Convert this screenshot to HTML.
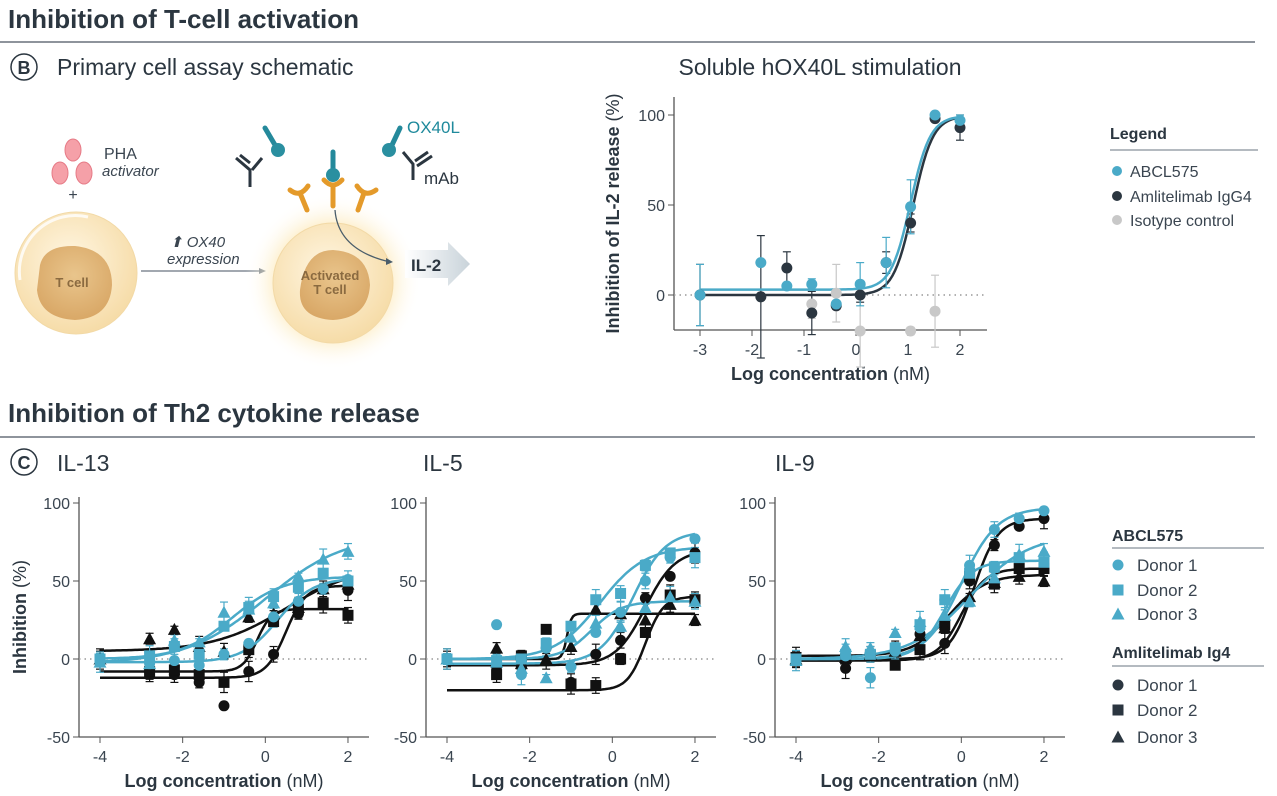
<!DOCTYPE html>
<html><head><meta charset="utf-8"><style>
body{margin:0;background:#fff;}
svg{display:block;font-family:"Liberation Sans",sans-serif;}
</style></head><body>
<svg id="s" width="1277" height="796" viewBox="0 0 1277 796" xmlns="http://www.w3.org/2000/svg">
<defs>
<radialGradient id="cellg" cx="45%" cy="40%" r="60%"><stop offset="0" stop-color="#fff6e2"/><stop offset="1" stop-color="#f6dca8"/></radialGradient>
<radialGradient id="nucg" cx="50%" cy="40%" r="60%"><stop offset="0" stop-color="#e9c58c"/><stop offset="1" stop-color="#d9a867"/></radialGradient>
<radialGradient id="glow" cx="50%" cy="50%" r="50%"><stop offset="0.6" stop-color="#fde9b8" stop-opacity="0.9"/><stop offset="1" stop-color="#fff" stop-opacity="0"/></radialGradient>
<linearGradient id="il2" x1="0" x2="1"><stop offset="0" stop-color="#fff"/><stop offset="1" stop-color="#c9d3da"/></linearGradient>
</defs>
<text x="8" y="28" font-size="26" font-weight="bold" fill="#2b3640">Inhibition of T-cell activation</text>
<line x1="0" y1="42" x2="1255" y2="42" stroke="#4a5560" stroke-width="1.3"/>
<circle cx="24" cy="67" r="13" fill="none" stroke="#2b3640" stroke-width="1.5"/><text x="24" y="74" font-size="18" font-weight="bold" text-anchor="middle" fill="#2b3640">B</text>
<text x="57" y="75" font-size="23" fill="#2b3640">Primary cell assay schematic</text>
<text x="820" y="75" font-size="23" fill="#2b3640" text-anchor="middle">Soluble hOX40L stimulation</text>
<text x="8" y="422" font-size="26" font-weight="bold" fill="#2b3640">Inhibition of Th2 cytokine release</text>
<line x1="0" y1="437" x2="1255" y2="437" stroke="#4a5560" stroke-width="1.3"/>
<circle cx="24" cy="462" r="13" fill="none" stroke="#2b3640" stroke-width="1.5"/><text x="24" y="469" font-size="18" font-weight="bold" text-anchor="middle" fill="#2b3640">C</text>
<text x="57" y="471" font-size="23" fill="#2b3640">IL-13</text>
<text x="423" y="471" font-size="23" fill="#2b3640">IL-5</text>
<text x="775" y="471" font-size="23" fill="#2b3640">IL-9</text>

<g>
<ellipse cx="73" cy="150" rx="8" ry="11" fill="#f5a0a8" stroke="#e67a86"/>
<ellipse cx="60" cy="173" rx="8" ry="11" fill="#f5a0a8" stroke="#e67a86"/>
<ellipse cx="84" cy="173" rx="8" ry="11" fill="#f5a0a8" stroke="#e67a86"/>
<text x="104" y="159" font-size="16" fill="#3a4550">PHA</text>
<text x="102" y="176" font-size="15" font-style="italic" fill="#3a4550">activator</text>
<text x="73" y="200" font-size="16" fill="#3a4550" text-anchor="middle">+</text>
<circle cx="76" cy="273" r="61" fill="url(#cellg)" stroke="#f2d9a6"/>
<path d="M20 280 A56 56 0 0 1 88 217" fill="none" stroke="#fff" stroke-width="3" opacity="0.8"/>
<path d="M40 265 Q45 245 75 246 Q112 250 112 285 Q110 318 75 320 Q40 318 37 290 Z" fill="url(#nucg)"/>
<text x="72" y="287" font-size="13" font-weight="bold" fill="#8a6a40" text-anchor="middle">T cell</text>
<text x="170" y="247" font-size="15" font-style="italic" fill="#3a4550">⬆  OX40</text>
<text x="167" y="264" font-size="15" font-style="italic" fill="#3a4550">expression</text>
<line x1="141" y1="271" x2="262" y2="271" stroke="#6a7580" stroke-width="1.3"/><path d="M266 271 l-7 -3 v6z" fill="#6a7580"/>
<circle cx="333" cy="282" r="88" fill="url(#glow)"/>
<circle cx="333" cy="283" r="60" fill="url(#cellg)" stroke="#f2d9a6"/>
<path d="M300 290 Q305 250 333 250 Q368 252 370 285 Q368 318 333 320 Q298 318 300 290Z" fill="url(#nucg)"/>
<text x="330" y="280" font-size="13" font-weight="bold" fill="#8a6a40" text-anchor="middle">Activated</text>
<text x="330" y="294" font-size="13" font-weight="bold" fill="#8a6a40" text-anchor="middle">T cell</text>
<g stroke="#e49a2a" stroke-width="5" fill="none" stroke-linecap="round">
<path d="M307 210 L300 193"/><path d="M290 190 Q300 198 308 186"/>
<path d="M333 206 L333 186"/><path d="M324 180 Q333 190 342 180"/>
<path d="M358 210 L364 193"/><path d="M357 186 Q365 198 376 190"/>
</g>
<g stroke="#24899b" stroke-width="5" stroke-linecap="round"><line x1="333" y1="152" x2="333" y2="170"/><line x1="265" y1="128" x2="275" y2="145"/><line x1="400" y1="128" x2="392" y2="145"/></g>
<circle cx="333" cy="175" r="7" fill="#2a8fa0"/><circle cx="278" cy="150" r="7" fill="#2a8fa0"/><circle cx="389" cy="150" r="7" fill="#2a8fa0"/>
<g stroke="#2b3640" stroke-width="3" fill="none">
<path d="M236 158 L250 170 V187 M262 158 L252 170 M240 155 L250 163"/>
<path d="M403 152 L413 164 V180 M432 156 L417 166 M428 152 L415 161"/>
</g>
<text x="407" y="133" font-size="17" fill="#1f8a9c">OX40L</text>
<text x="424" y="184" font-size="17" fill="#2b3640">mAb</text>
<path d="M335 210 Q338 250 390 262" fill="none" stroke="#4a5d6a" stroke-width="1.3"/><path d="M393 262 l-7 -4 v7z" fill="#4a5d6a"/>
<path d="M405 250 H448 V242 L470 264 L448 286 V278 H405Z" fill="url(#il2)"/>
<text x="411" y="271" font-size="17" font-weight="bold" fill="#2b3640">IL-2</text>
</g>

<text x="1110" y="139" font-size="16" font-weight="bold" fill="#2b3640">Legend</text>
<line x1="1110" y1="150" x2="1258" y2="150" stroke="#6a7580"/>
<circle cx="1117" cy="171" r="5" fill="#4aaac8"/><text x="1130" y="177" font-size="16" fill="#3a4550">ABCL575</text>
<circle cx="1117" cy="196" r="5" fill="#2b3640"/><text x="1130" y="202" font-size="16" fill="#3a4550">Amlitelimab IgG4</text>
<circle cx="1117" cy="220" r="5" fill="#c8c8c8"/><text x="1130" y="226" font-size="16" fill="#3a4550">Isotype control</text>

<text x="1112" y="541" font-size="16" font-weight="bold" fill="#2b3640">ABCL575</text>
<line x1="1112" y1="548" x2="1264" y2="548" stroke="#6a7580"/>
<text x="1112" y="658" font-size="16" font-weight="bold" fill="#2b3640">Amlitelimab Ig4</text>
<line x1="1112" y1="666" x2="1264" y2="666" stroke="#6a7580"/>
<g id="leg"></g>
<g id="plots"></g>
</svg>
<script>
var NS="http://www.w3.org/2000/svg",P=document.getElementById('plots'),L=document.getElementById('leg');
function el(t,a,par,txt){var e=document.createElementNS(NS,t);for(var k in a)e.setAttribute(k,a[k]);if(txt!=null)e.textContent=txt;(par||P).appendChild(e);return e;}
var TEAL="#4aaac8",BLK="#111",NAVY="#2b3640";
function marker(sh,x,y,c,par,r){r=r||5.5;if(sh=='c')el('circle',{cx:x,cy:y,r:r,fill:c},par);else if(sh=='s')el('rect',{x:x-r,y:y-r,width:2*r,height:2*r,fill:c},par);else el('path',{d:'M'+x+' '+(y-r-1)+'L'+(x+r+1)+' '+(y+r)+'L'+(x-r-1)+' '+(y+r)+'Z',fill:c},par);}
[['c',565,TEAL,1],['s',590,TEAL,2],['t',614,TEAL,3],['c',685,NAVY,1],['s',710,NAVY,2],['t',737,NAVY,3]].forEach(function(m){marker(m[0],1118,m[1],m[2],L);el('text',{x:1137,y:m[1]+6,'font-size':17,fill:'#3a4550'},L,'Donor '+m[3]);});
function f4(p,x){return p[0]+(p[1]-p[0])/(1+Math.pow(10,(p[2]-x)*p[3]));}
function plot(o){
 var X=function(v){return o.x0+(v-o.xmin)*o.xs},Y=function(v){return o.y0-v*o.ys};
 el('line',{x1:o.ax,y1:o.top,x2:o.ax,y2:o.bot,stroke:'#555','stroke-width':1.3});
 el('line',{x1:o.ax,y1:o.bot,x2:o.right,y2:o.bot,stroke:'#555','stroke-width':1.3});
 el('line',{x1:o.ax,y1:Y(0),x2:o.right,y2:Y(0),stroke:'#999','stroke-width':1.5,'stroke-dasharray':'1.5 4'});
 o.yt.forEach(function(v){el('line',{x1:o.ax-6,y1:Y(v),x2:o.ax,y2:Y(v),stroke:'#555'});el('text',{x:o.ax-9,y:Y(v)+6,'font-size':16,'text-anchor':'end',fill:'#3a4550'},null,v);});
 o.xt.forEach(function(v){el('line',{x1:X(v),y1:o.bot,x2:X(v),y2:o.bot+6,stroke:'#555'});el('text',{x:X(v),y:o.bot+25,'font-size':16,'text-anchor':'middle',fill:'#3a4550'},null,v);});
 var t=el('text',{x:(o.ax+o.right)/2,y:o.bot+50,'font-size':18,'text-anchor':'middle',fill:'#2b3640'});
 el('tspan',{'font-weight':'bold'},t,'Log concentration');el('tspan',{},t,' (nM)');
 if(o.ylab){var yt=el('text',{transform:'translate('+o.ylx+','+((o.top+o.bot)/2)+') rotate(-90)','font-size':18,'text-anchor':'middle',fill:'#2b3640'});el('tspan',{'font-weight':'bold'},yt,o.ylab);el('tspan',{},yt,' (%)');}
 o.ser.forEach(function(s,si){
  if(s.p){var d='';for(var v=o.xs0;v<=o.xe0+1e-9;v+=0.05){d+=(d?'L':'M')+X(v).toFixed(1)+' '+Y(f4(s.p,v)).toFixed(1);}el('path',{d:d,fill:'none',stroke:s.c,'stroke-width':2.5});}
  s.y.forEach(function(v,i){if(v==null)return;var x=X(o.px[i]),y=Y(v);var e=(s.e?s.e[i]:((i*7+si*3)%4)*1.5+2);
   el('line',{x1:x,y1:Y(v+e),x2:x,y2:Y(v-e),stroke:s.c,'stroke-width':1.2});el('line',{x1:x-4,y1:Y(v+e),x2:x+4,y2:Y(v+e),stroke:s.c,'stroke-width':1.2});el('line',{x1:x-4,y1:Y(v-e),x2:x+4,y2:Y(v-e),stroke:s.c,'stroke-width':1.2});});
 });
 o.ser.forEach(function(s){s.y.forEach(function(v,i){if(v!=null)marker(s.m,X(o.px[i]),Y(v),s.mc||s.c);});});
}
plot({x0:700,xmin:-3,xs:52,y0:295,ys:1.8,ax:674,top:97,bot:330,right:987,yt:[0,50,100],xt:[-3,-2,-1,0,1,2],ylab:'Inhibition of IL-2 release',ylx:619,xs0:-3,xe0:2,
 px:[-3,-1.83,-1.33,-0.85,-0.38,0.08,0.58,1.05,1.52,2],
 ser:[{c:'#c8c8c8',m:'c',y:[null,null,null,-5,1,-20,null,-20,-9,null],e:[0,0,0,8,16,20,0,2,20,0]},
  {c:NAVY,m:'c',p:[0,99.5,1.1,2.3],y:[0,-1,15,-10,-6,0,18,40,98,93],e:[17,34,9,12,2,4,6,5,1,7]},
  {c:TEAL,m:'c',p:[3,99.5,1.05,2.3],y:[0,18,5,6,-5,6,18,49,100,97],e:[17,1,1,3,1,12,14,15,1,3]}]});
var px=[-4,-2.8,-2.2,-1.6,-1,-0.4,0.2,0.8,1.4,2];
function sm(o,off){o.x0=100+off;o.xmin=-4;o.xs=41.33;o.y0=659;o.ys=1.56;o.ax=79+off;o.top=497;o.bot=737;o.right=369+off;o.yt=[-50,0,50,100];o.xt=[-4,-2,0,2];o.xs0=-4;o.xe0=2;o.px=px;o.ylx=26;plot(o);}
function S(c,m,p,y){return {c:c,m:m,p:p,y:y};}
sm({ylab:'Inhibition',ser:[
 S(BLK,'c',[-12,47,0.5,1.8],[-2,-8,-10,-15,-30,-8,3,29,45,44]),
 S(BLK,'s',[-8,32,-0.2,2.5],[0,-8,-7,-10,-15,6,24,32,36,28]),
 S(BLK,'t',[5,60,0.5,0.5],[0,13,19,8,5,27,29,33,45,48]),
 S(TEAL,'c',[-2,52,0.3,1.0],[0,-3,-1,-4,3,10,27,37,45,51]),
 S(TEAL,'s',[0,53,-0.8,0.7],[0,2,8,3,21,33,40,46,55,50]),
 S(TEAL,'t',[-3,80,0,0.45],[-2,-3,12,11,30,32,36,53,64,69])]},0);
sm({ser:[
 S(BLK,'c',[-4,70,0.8,1.2],[0,-5,-5,7,-15,3,12,39,53,68]),
 S(BLK,'s',[-20,40,0.8,2],[0,-10,2,19,-16,-17,0,17,41,38]),
 S(BLK,'t',[0,29,-1.1,8],[0,7,-3,0,8,32,29,25,35,25]),
 S(TEAL,'c',[-3,82,0.5,1.1],[0,22,-10,7,-5,17,30,50,65,77]),
 S(TEAL,'s',[0,72,-0.3,0.8],[0,-1,0,10,21,38,42,60,68,65]),
 S(TEAL,'t',[0,37,-0.5,1.2],[0,-2,-6,-12,14,23,21,33,40,37])]},347);
sm({ser:[
 S(BLK,'c',[0,90,0.3,1.5],[0,-6,3,5,16,10,50,73,85,90]),
 S(BLK,'s',[-1,58,0,1.5],[1,0,2,-4,6,22,53,48,58,58]),
 S(BLK,'t',[2,54,-0.3,1.0],[0,1,3,5,15,20,40,49,53,50]),
 S(TEAL,'c',[0,97,0,1],[0,2,-12,5,20,38,60,83,90,95]),
 S(TEAL,'s',[0,63,-0.4,1.3],[0,3,3,7,22,38,55,59,65,62]),
 S(TEAL,'t',[0,80,0.2,0.6],[-1,8,7,17,24,28,37,52,67,69])]},696);
</script>
</body></html>
